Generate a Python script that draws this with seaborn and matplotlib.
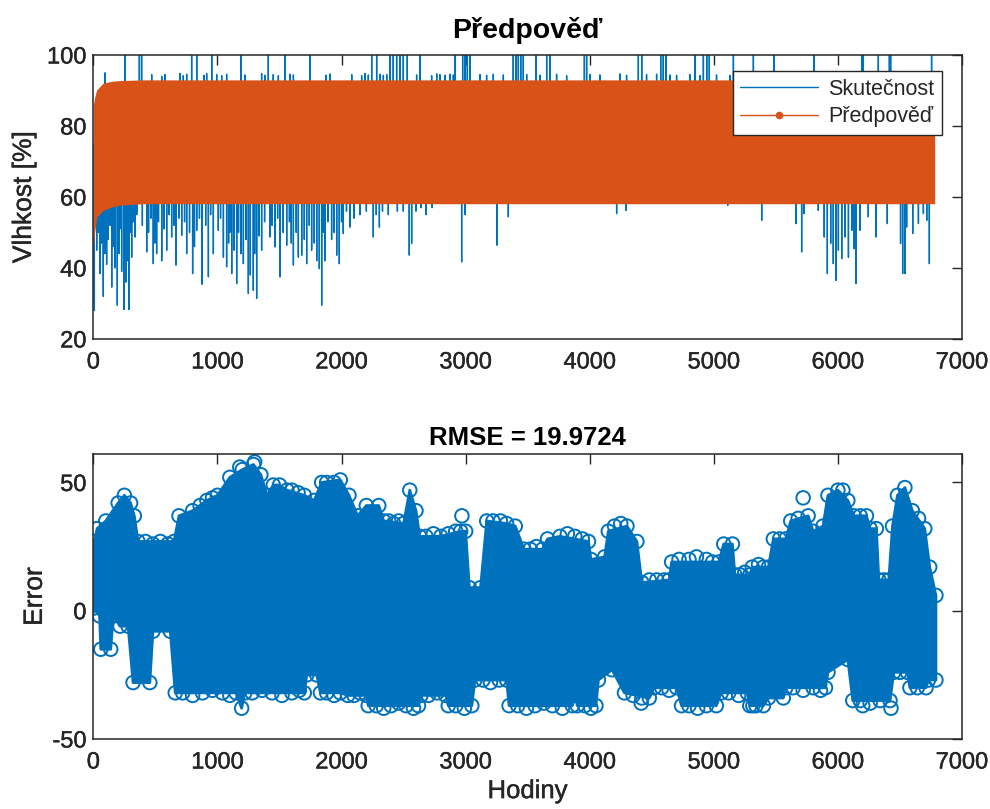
import numpy as np
import pandas as pd
import matplotlib
matplotlib.use("Agg")
import matplotlib.pyplot as plt
import matplotlib.patheffects as pe
from matplotlib.lines import Line2D
import seaborn as sns

# ---- Forecast band (predicted humidity oscillates between these envelopes) ----
fc_hours = [0, 10, 27, 80, 150, 215, 400, 6780]
fc_low = [46, 50, 54.4, 56.2, 57.2, 57.7, 58.1, 58.1]
fc_high = [86, 88, 90.2, 92.1, 92.6, 92.8, 93.0, 93.0]

# ---- Measured humidity: excursions outside the forecast band ----
low_spike_hours = [8, 27, 54, 80, 107, 148, 193, 228, 247, 287, 309, 336, 430, 483, 510, 551,
                   591, 631, 666, 712, 752, 800, 833, 876, 927, 967, 1007, 1048, 1074, 1115,
                   1155, 1209, 1249, 1289, 1316, 1356, 1424, 1464, 1504, 1558, 1612, 1652,
                   1679, 1719, 1759, 1800, 1821, 1840, 1867, 1961, 1982, 2014, 2068, 2149,
                   2256, 2305, 2377, 2498, 2546, 2565, 2681, 2968, 2995, 3253, 3344, 4217,
                   4292, 5112, 5386, 5662, 5708, 5727, 5842, 5890, 5915, 5942, 5963, 5985,
                   6004, 6031, 6058, 6085, 6112, 6131, 6146, 6178, 6245, 6307, 6398, 6505,
                   6522, 6541, 6554, 6603, 6649, 6689, 6716, 6737,
                   40, 65, 92, 120, 135, 160, 175, 205, 215, 262, 275, 300, 320, 350, 395,
                   445, 465, 495, 525, 570, 610, 650, 690, 735, 775, 815, 855, 905, 945,
                   1025, 1090, 1100, 1135, 1170, 1190, 1230, 1265, 1300, 1335, 1380, 1440,
                   1485, 1530, 1580, 1595, 1635, 1700, 1740, 1780, 1855, 1890, 1920, 1940,
                   2000, 2040, 2100, 2200, 2280, 2330, 2450, 2600, 2640, 2730]
low_spike_values = [28, 45, 38.4, 32, 41, 34.6, 29.5, 39, 28.3, 28.3, 43, 48.7, 44.5, 41.2, 44,
                    42, 45, 48.7, 40.8, 49.2, 44, 38.4, 50.6, 35.4, 37.5, 44, 50.6, 43, 40.3,
                    38.4, 35.6, 41.2, 32.8, 33.7, 31.4, 45, 48.7, 45.9, 37.5, 46.4, 40.8, 43,
                    43.6, 41.2, 45, 42, 39.8, 29.5, 42, 43.6, 41.2, 49.7, 51.5, 55, 48.7, 51.5,
                    55, 56, 43.6, 46.9, 55, 41.7, 55, 46.4, 54.4, 55.3, 56.2, 57.6, 53.4, 52.5,
                    44.5, 55.3, 56.2, 48.7, 38.4, 46.9, 41.2, 36.5, 45, 42.6, 48.7, 43, 50.6,
                    45.4, 35.6, 50.6, 54.4, 48.7, 52.5, 46.9, 38.4, 38.4, 51.5, 49.7, 52.5,
                    55.3, 53.4, 41.2,
                    50, 47, 44, 48, 52, 46, 40, 44, 51, 36, 42, 50, 53, 55, 52,
                    50, 54, 47, 53, 51, 55, 52, 54, 53, 50, 46, 54, 52, 55,
                    54, 47, 50, 45, 50, 44, 48, 38, 44, 49, 53, 52,
                    54, 50, 53, 47, 50, 48, 52, 47, 50, 53, 48, 50,
                    53, 56, 54, 56, 55, 56, 56, 56, 57, 57]
top_spike_hours = [255, 371, 389, 792, 833, 954, 1190, 1410, 1544, 1746, 2243, 2283, 2391,
                   2417, 2444, 2471, 2498, 2530, 2632, 2914, 2976, 2995, 3014, 3035, 3384,
                   3406, 3425, 3444, 3465, 3567, 3653, 3680, 3957, 3975, 4392, 4419, 4572,
                   4593, 4615, 4849, 4916, 4943, 4964, 5158, 5319, 5485, 5808, 6192, 6205,
                   6326, 6415, 6425, 6755]
top_spike_values = [100] * len(top_spike_hours)
small_spike_hours = [94, 470, 551, 578, 698, 725, 752, 892, 913, 994, 1034, 1074, 1222, 1356,
                     1383, 1450, 1491, 1585, 1612, 1875, 1907, 2082, 2162, 2189, 2216, 2310,
                     2337, 2364, 2605, 2726, 2767, 2793, 2834, 2874, 2901, 3116, 3169, 3223,
                     3304, 3492, 3600, 3733, 3814, 4002, 4082, 4244, 4297, 4458, 4539, 4646,
                     4700, 4807, 4888, 5022, 5129]
small_spike_values = [95, 94.5, 94, 94.5, 94.8, 94.2, 94.6, 94.3, 94.8, 94.5, 94.2, 94.6, 94.4,
                      94.8, 94.3, 94.5, 94.2, 94.6, 94.4, 94.3, 94.7, 94.5, 94.2, 94.8, 94.4,
                      94.6, 94.3, 94.5, 94.4, 94.2, 94.7, 94.5, 94.3, 94.6, 94.4, 94.5, 94.3,
                      94.6, 94.4, 94.5, 94.3, 94.6, 94.2, 94.5, 94.4, 94.7, 94.3, 94.5, 94.6,
                      94.4, 94.3, 94.5, 94.2, 94.4, 94.3]

# ---- Forecast error: upper / lower extent of the error cloud ----
err_top_hours = [0, 30, 100, 200, 250, 300, 330, 360, 650, 690, 800, 915, 1000, 1100, 1200,
                 1290, 1350, 1400, 1450, 1500, 1560, 1700, 1780, 1840, 1990, 2060, 2130, 2200,
                 2300, 2340, 2500, 2550, 2600, 2630, 2800, 2960, 3000, 3030, 3120, 3170, 3330,
                 3400, 3470, 3620, 3660, 3760, 3990, 4010, 4120, 4150, 4300, 4380, 4420, 4640,
                 4660, 5040, 5080, 5150, 5170, 5290, 5310, 5440, 5480, 5580, 5620, 5760, 5800,
                 5880, 5920, 6000, 6080, 6130, 6230, 6260, 6310, 6330, 6410, 6440, 6480, 6540,
                 6600, 6700, 6740, 6790]
err_top = [25, 32, 35, 42, 45, 42, 37, 27, 27, 37, 39, 43, 45, 52, 55, 57, 53, 45, 49, 49, 47,
           45, 43, 50, 51, 45, 37, 41, 41, 35, 34, 47, 39, 29, 29, 31, 31, 9, 9, 35, 34, 33,
           24, 24, 28, 29, 27, 20, 21, 31, 33, 27, 11, 12, 19, 19, 26, 26, 14, 14, 17, 17, 28,
           28, 35, 37, 31, 33, 45, 47, 43, 37, 37, 32, 32, 12, 12, 33, 45, 48, 39, 32, 17, 6]
err_bottom_hours = [0, 50, 60, 140, 160, 215, 280, 320, 455, 480, 620, 660, 1150, 1195, 1220,
                    1700, 1720, 1800, 1830, 1990, 2050, 2200, 2215, 2620, 2640, 2840, 2860,
                    3050, 3075, 3330, 3350, 3860, 3880, 3900, 4050, 4070, 4180, 4280, 4480,
                    4520, 4700, 4740, 5020, 5060, 5270, 5290, 5400, 5440, 5560, 5580, 5900,
                    5920, 6080, 6120, 6420, 6450, 6560, 6580, 6710, 6730, 6790]
err_bottom = [1, -2, -15, -15, -2, -6, -6, -28, -28, -8, -8, -32, -32, -38, -32, -32, -25, -25,
              -32, -32, -33, -33, -37, -37, -33, -33, -37, -37, -27, -27, -37, -37, -33, -37,
              -37, -27, -23, -32, -34, -30, -30, -37, -37, -32, -32, -37, -37, -34, -34, -30,
              -30, -24, -19, -35, -35, -24, -24, -30, -30, -27, -27]
# further edge circles along the plateaus and isolated outliers
err_extra_hours = [1180, 1300, 2970, 4415, 5315, 5720, 6200, 6428,
                   420, 480, 540, 600, 860, 960, 1600, 1650, 1880, 1940, 2380, 2420, 2460,
                   2680, 2740, 2860, 2920, 3220, 3280, 3520, 3570, 3820, 3880, 3940, 4200,
                   4250, 4480, 4540, 4600, 4720, 4800, 4860, 4940, 4990, 5210, 5250, 5360,
                   5400, 5530, 5680, 6040, 6180, 6370, 6650,
                   720, 800, 880, 960, 1040, 1100, 1280, 1360, 1440, 1520, 1600, 1660, 1880,
                   1940, 2100, 2150, 2280, 2340, 2400, 2460, 2520, 2580, 2700, 2770, 2920,
                   2990, 3140, 3200, 3270, 3420, 3490, 3560, 3630, 3700, 3780, 3960, 4010,
                   4350, 4420, 4580, 4640, 4800, 4870, 4940, 5120, 5200, 5340, 5640, 5720,
                   5800, 5860, 6180, 6260, 6340, 6500, 6640]
err_extra = [56, 58, 37, -36, -37, 44, -37, -38,
             27, 26, 27, 26, 41, 44, 47, 46, 50, 50, 35, 34, 35,
             29, 30, 30, 31, 35, 35, 24, 25, 30, 29, 28, 33,
             34, 12, 12, 12, 20, 20, 21, 20, 19, 14, 15, 18,
             17, 28, 36, 47, 37, 12, 36,
             -32, -33, -32, -31, -32, -33, -32, -31, -32, -33, -32, -31, -32,
             -33, -33, -32, -37, -38, -37, -36, -37, -38, -33, -32, -37,
             -38, -27, -28, -27, -37, -38, -37, -36, -37, -38, -37, -38,
             -33, -34, -30, -31, -37, -38, -37, -32, -33, -37, -30, -31,
             -30, -31, -35, -36, -35, -24, -30]

RMSE = 19.9724

BLUE = "#0072BD"
ORANGE = "#D95319"
INK = "#262626"

sns.set_style("white")
plt.rcParams["font.family"] = ["Liberation Sans", "DejaVu Sans"]
plt.rcParams["axes.edgecolor"] = INK
plt.rcParams["axes.linewidth"] = 1.1
plt.rcParams["xtick.color"] = INK
plt.rcParams["ytick.color"] = INK
plt.rcParams["axes.unicode_minus"] = False

fig = plt.figure(figsize=(9.9, 8.09), dpi=100)
ax1 = fig.add_axes([0.0943, 0.581, 0.8774, 0.351])
ax2 = fig.add_axes([0.0943, 0.0865, 0.8774, 0.352])

# ---- top panel: measured vs forecast ----
spikes = pd.DataFrame({
    "hour": low_spike_hours + top_spike_hours + small_spike_hours,
    "value": low_spike_values + top_spike_values + small_spike_values,
}).sort_values("hour", kind="stable")
band_mid = 75
rows = []
for h, v in zip(spikes["hour"], spikes["value"]):
    rows += [(h - 1, band_mid), (h, v), (h + 1, band_mid)]
measured = pd.DataFrame(rows, columns=["Hodiny", "Vlhkost"])

sns.lineplot(data=measured, x="Hodiny", y="Vlhkost", estimator=None, sort=False,
             color=BLUE, lw=1.0, ax=ax1, zorder=1)
ax1.fill_between(fc_hours, fc_low, fc_high, color=ORANGE, lw=0, zorder=2)

ax1.set_xlim(0, 7000)
ax1.set_ylim(20, 100)
ax1.set_xticks(range(0, 7001, 1000))
ax1.set_yticks(range(20, 101, 20))
ax1.set_xlabel("")
ax1.set_ylabel("Vlhkost [%]", fontsize=19, color=INK, labelpad=8)
ax1.set_title("Předpověď", fontsize=20.5, fontweight="bold", color="black", pad=12)

handles = [Line2D([], [], color=BLUE, lw=1.0),
           Line2D([], [], color=ORANGE, lw=1.0, marker=".", markersize=9)]
leg = ax1.legend(handles, ["Skutečnost", "Předpověď"], loc="upper right",
                 bbox_to_anchor=(0.977, 0.943), borderaxespad=0, fontsize=15.5,
                 frameon=True, fancybox=False, framealpha=1, edgecolor=INK,
                 handlelength=3.6, handletextpad=0.5, borderpad=0.35, labelspacing=0.3)
leg.get_frame().set_linewidth(1.0)

# ---- bottom panel: forecast error ----
outline_x = list(err_top_hours) + list(err_bottom_hours[::-1])
outline_y = list(err_top) + list(err_bottom[::-1])
ax2.fill(outline_x, outline_y, facecolor=BLUE, edgecolor=BLUE, lw=2,
         joinstyle="round", zorder=1)

cloud = pd.DataFrame({
    "Hodiny": err_top_hours + err_bottom_hours + err_extra_hours,
    "Error": err_top + err_bottom + err_extra,
})
sns.scatterplot(data=cloud, x="Hodiny", y="Error", ax=ax2, s=95, marker="o",
                color=BLUE, linewidth=1.4, zorder=2)
for coll in ax2.collections:
    coll.set_facecolor("none")
    coll.set_edgecolor(BLUE)

ax2.set_xlim(0, 7000)
ax2.set_ylim(-50, 61)
ax2.set_xticks(range(0, 7001, 1000))
ax2.set_yticks([-50, 0, 50])
ax2.set_xlabel("Hodiny", fontsize=18.5, color=INK, labelpad=4)
ax2.set_ylabel("Error", fontsize=19, color=INK, labelpad=4)
ax2.set_title(f"RMSE = {RMSE}", fontsize=18.5, fontweight="bold", color="black", pad=7)

heavier = [pe.withStroke(linewidth=0.3, foreground=INK)]
for ax in (ax1, ax2):
    ax.tick_params(direction="in", length=7, width=1.0, top=True, right=True,
                   labelsize=17)
    ax.tick_params(axis="x", pad=9)
    ax.tick_params(axis="y", pad=5)
    for lab in ax.get_xticklabels() + ax.get_yticklabels():
        lab.set_path_effects(heavier)
    ax.xaxis.label.set_path_effects(heavier)
    ax.yaxis.label.set_path_effects(heavier)
    for sp in ax.spines.values():
        sp.set_visible(True)
        sp.set_zorder(5)

fig.savefig("out.png", dpi=100, facecolor="white")
